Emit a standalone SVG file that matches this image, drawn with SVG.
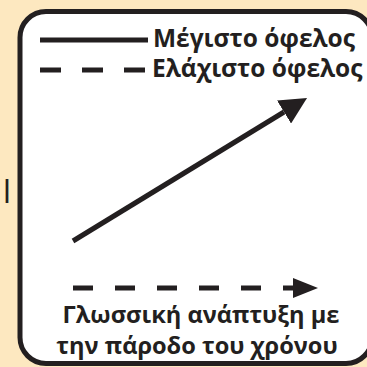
<svg xmlns="http://www.w3.org/2000/svg" width="367" height="367" viewBox="0 0 367 367">
<style>
.ln{stroke:#231f20;stroke-width:5;fill:none}
.t{font-family:"Open Sans","Noto Sans",sans-serif;font-weight:bold;fill:#231f20}
</style>
<defs>
<marker id="ah" viewBox="0 0 10 10" refX="0" refY="5" markerWidth="5.4" markerHeight="5.4" orient="auto" markerUnits="strokeWidth">
<path d="M0,0 L10,5 L0,10 Z" fill="#231f20"/>
</marker>
</defs>
<rect x="0" y="0" width="367" height="367" fill="#fde8c0"/>
<text x="2.5" y="203" style="font-family:'Open Sans',sans-serif;font-size:32px;fill:#231f20">I</text>
<g id="frame">
<rect x="20" y="11.5" width="352" height="352" rx="26" ry="26" fill="#fff" stroke="#231f20" stroke-width="5"/>
</g>
<g id="legend">
<line class="ln" x1="40" y1="40" x2="148" y2="40" stroke-width="4.5"/>
<text class="t" x="153" y="47" font-size="24.5">Μέγιστο όφελος</text>
<line class="ln" x1="40" y1="70" x2="148" y2="70" stroke-width="4.5" stroke-dasharray="21 21"/>
<text class="t" x="152" y="77" font-size="24.5">Ελάχιστο όφελος</text>
</g>
<g id="connectors">
<line class="ln" x1="73" y1="241" x2="284" y2="112" marker-end="url(#ah)"/>
<line class="ln" x1="73" y1="288" x2="293" y2="288" stroke-dasharray="20 22"/>
<path d="M293,278 L318,288 L293,298 Z" fill="#231f20"/>
</g>
<g id="label">
<text class="t" x="201" y="323" font-size="23.6" text-anchor="middle">Γλωσσική ανάπτυξη με</text>
<text class="t" x="197" y="354" font-size="23.6" text-anchor="middle">την πάροδο του χρόνου</text>
</g>
</svg>
